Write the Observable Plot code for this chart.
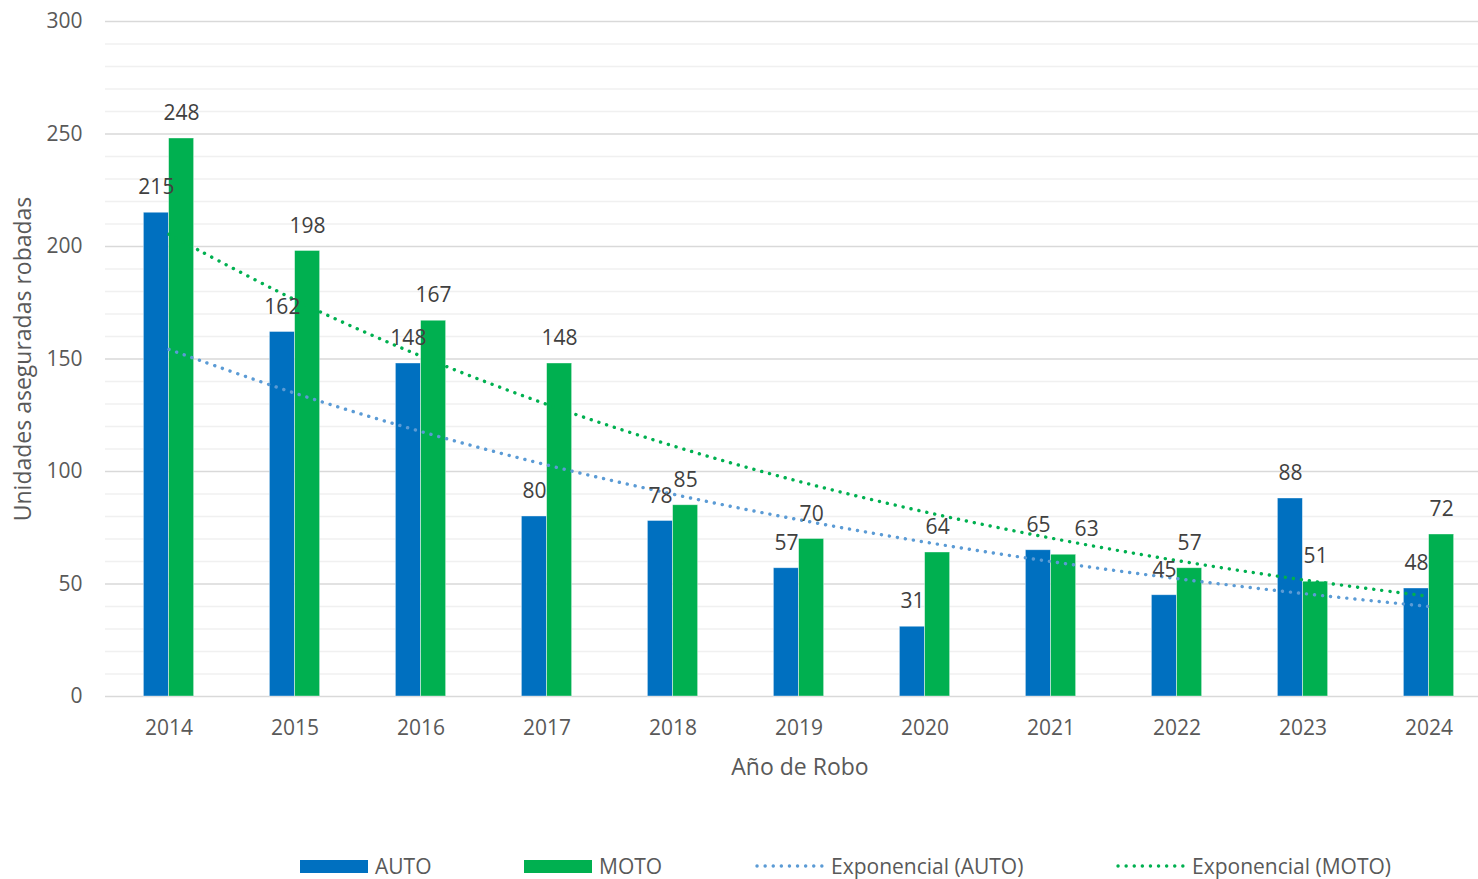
<!DOCTYPE html>
<html>
<head>
<meta charset="utf-8">
<script src="https://cdn.jsdelivr.net/npm/d3@7"></script>
<script src="https://cdn.jsdelivr.net/npm/@observablehq/plot@0.6"></script>
<style>
  html, body { margin: 0; padding: 0; background: #fff; overflow: hidden; }
  #chart { width: 1478px; }
  .legend { position: relative; width: 1478px; height: 39px; font-family: "Open Sans", sans-serif; font-size: 21px; color: #595959; }
  .legend .item { position: absolute; top: 0; height: 52px; display: flex; align-items: center; }
  .legend .sw { width: 68px; height: 13px; margin-right: 7px; }
  .legend svg { margin-right: 6px; }
</style>
</head>
<body>
<div id="chart"></div>
<script>
const years = ["2014","2015","2016","2017","2018","2019","2020","2021","2022","2023","2024"];
const autoValues = [215, 162, 148, 80, 78, 57, 31, 65, 45, 88, 48];
const motoValues = [248, 198, 167, 148, 85, 70, 64, 63, 57, 51, 72];
const yTicks = [0, 50, 100, 150, 200, 250, 300];
const seriesNames = ["AUTO", "MOTO", "Exponencial (AUTO)", "Exponencial (MOTO)"];
const colors = { auto: "#0070C0", moto: "#00B050", trendAuto: "#5B9BD5", trendMoto: "#00B050" };

const autoRows = years.map((y, i) => ({ year: y, value: autoValues[i] }));
const motoRows = years.map((y, i) => ({ year: y, value: motoValues[i] }));

// Exponential trendline (least squares on ln(y)), as in Excel
function expTrend(values) {
  const xs = values.map((_, i) => i + 1);
  const ls = values.map(v => Math.log(v));
  const mx = d3.mean(xs), ml = d3.mean(ls);
  const b = d3.sum(xs.map((x, i) => (x - mx) * (ls[i] - ml))) / d3.sum(xs.map(x => (x - mx) ** 2));
  const a = ml - b * mx;
  return xs.map((x, i) => ({ year: years[i], value: Math.exp(a + b * x) }));
}
const trendAuto = expTrend(autoValues);
const trendMoto = expTrend(motoValues);

const W = 1478, H = 840;
const mL = 105, mT = 21, mB = 144;
const xRange = [105, 1493];
const step = (xRange[1] - xRange[0]) / years.length;
const half = step * 0.2 / 2;

const minor = d3.range(10, 301, 10).filter(v => v % 50 !== 0);
const major = yTicks.filter(v => v > 0);

const dotted = { strokeWidth: 3.4, strokeDasharray: "0.1 8", strokeLinecap: "round", curve: "catmull-rom" };
const labelStyle = { x: "year", y: "value", text: d => String(d.value), dy: -25, fill: "#404040", fontSize: 21 };

const plot = Plot.plot({
  width: W, height: H,
  marginLeft: mL, marginRight: 0, marginTop: mT, marginBottom: mB,
  style: { fontFamily: "Open Sans, sans-serif", fontSize: "21px", color: "#595959", background: "#fff" },
  x: { type: "band", domain: years, range: xRange, paddingInner: 0.8, paddingOuter: 0.4 },
  y: { domain: [0, 300], range: [H - mB, mT] },
  marks: [
    Plot.ruleY(minor, { stroke: "#f0f0f0", strokeWidth: 1.5 }),
    Plot.ruleY(major, { stroke: "#d9d9d9", strokeWidth: 1.5 }),
    Plot.ruleY([0], { stroke: "#d9d9d9", strokeWidth: 1.5 }),
    Plot.barY(autoRows, { x: "year", y: "value", fill: colors.auto, dx: -half, stroke: "#ffffff", strokeOpacity: 0.5, strokeWidth: 0.75 }),
    Plot.barY(motoRows, { x: "year", y: "value", fill: colors.moto, dx: half, stroke: "#ffffff", strokeOpacity: 0.5, strokeWidth: 0.75 }),
    Plot.line(trendAuto, { x: "year", y: "value", stroke: colors.trendAuto, ...dotted }),
    Plot.line(trendMoto, { x: "year", y: "value", stroke: colors.trendMoto, ...dotted }),
    Plot.text(autoRows, { ...labelStyle, dx: -half }),
    Plot.text(motoRows.filter(d => d.year !== "2021"), { ...labelStyle, dx: half }),
    Plot.text(motoRows.filter(d => d.year === "2021"), { ...labelStyle, dx: half + 23 }),
    Plot.axisY({ ticks: yTicks, tickSize: 0, tickPadding: 23, label: null }),
    Plot.axisX({ tickSize: 0, tickPadding: 24, label: null }),
    Plot.text(["Unidades aseguradas robadas"], { frameAnchor: "left", textAnchor: "middle", lineAnchor: "middle", rotate: -90, dx: -82, fontSize: 23, fill: "#595959" }),
    Plot.text(["Año de Robo"], { frameAnchor: "bottom", textAnchor: "middle", lineAnchor: "middle", dx: 8, dy: 71, fontSize: 23, fill: "#595959" })
  ]
});
document.getElementById("chart").appendChild(plot);

// Legend
const legend = document.createElement("div");
legend.className = "legend";
const items = [
  { name: seriesNames[0], type: "rect", color: colors.auto, left: 300 },
  { name: seriesNames[1], type: "rect", color: colors.moto, left: 524 },
  { name: seriesNames[2], type: "dot", color: colors.trendAuto, left: 755 },
  { name: seriesNames[3], type: "dot", color: colors.trendMoto, left: 1116 }
];
for (const it of items) {
  const d = document.createElement("div");
  d.className = "item";
  d.style.left = it.left + "px";
  if (it.type === "rect") {
    const s = document.createElement("div");
    s.className = "sw";
    s.style.background = it.color;
    d.appendChild(s);
  } else {
    const ns = "http://www.w3.org/2000/svg";
    const svg = document.createElementNS(ns, "svg");
    svg.setAttribute("width", 70); svg.setAttribute("height", 10);
    const ln = document.createElementNS(ns, "line");
    ln.setAttribute("x1", 2); ln.setAttribute("x2", 68); ln.setAttribute("y1", 5); ln.setAttribute("y2", 5);
    ln.setAttribute("stroke", it.color); ln.setAttribute("stroke-width", 3.4);
    ln.setAttribute("stroke-dasharray", "0.1 8"); ln.setAttribute("stroke-linecap", "round");
    svg.appendChild(ln);
    d.appendChild(svg);
  }
  const t = document.createElement("span");
  t.textContent = it.name;
  d.appendChild(t);
  legend.appendChild(d);
}
document.body.appendChild(legend);
</script>
</body>
</html>
